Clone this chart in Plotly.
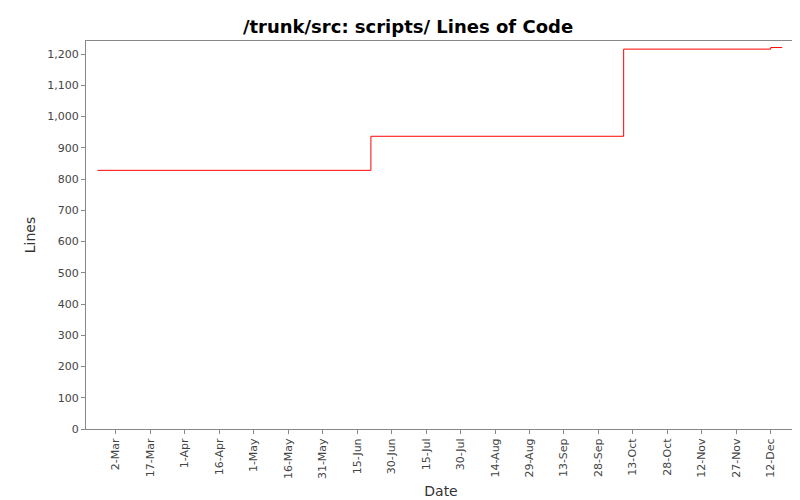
import plotly.graph_objects as go

dates = ["2009-02-22", "2009-06-21", "2009-10-09", "2009-12-12", "2009-12-17"]
lines = [828, 937, 1216, 1221, 1221]

tickvals = ["2009-03-02","2009-03-17","2009-04-01","2009-04-16","2009-05-01","2009-05-16",
            "2009-05-31","2009-06-15","2009-06-30","2009-07-15","2009-07-30","2009-08-14",
            "2009-08-29","2009-09-13","2009-09-28","2009-10-13","2009-10-28","2009-11-12",
            "2009-11-27","2009-12-12"]
ticktext = ["2-Mar","17-Mar","1-Apr","16-Apr","1-May","16-May","31-May","15-Jun","30-Jun",
            "15-Jul","30-Jul","14-Aug","29-Aug","13-Sep","28-Sep","13-Oct","28-Oct","12-Nov",
            "27-Nov","12-Dec"]

fig = go.Figure(go.Scatter(x=dates, y=lines, mode="lines", line=dict(color="red", width=1, shape="hv")))
fig.update_layout(
    width=800, height=500, paper_bgcolor="white", plot_bgcolor="white",
    margin=dict(l=78, r=12, t=33, b=79, autoexpand=False), showlegend=False,
    font=dict(family="DejaVu Sans", size=11, color="#444"),
    title=dict(text="<b>/trunk/src: scripts/ Lines of Code</b>", x=0.5, y=0.975, xanchor="center",
               font=dict(size=18, color="black")),
    xaxis=dict(range=["2009-02-17", "2009-12-23"], tickvals=tickvals, ticktext=ticktext, tickangle=-90,
               showgrid=False, zeroline=False, ticks="outside", ticklen=4, tickcolor="#888",
               mirror=True, showline=True, linecolor="#888", automargin=False,
               title=dict(text="Date", standoff=8, font=dict(size=14, color="#333"))),
    yaxis=dict(range=[0, 1242], dtick=100, tickformat=",", showgrid=False, zeroline=False,
               ticks="outside", ticklen=4, tickcolor="#888", mirror=True, showline=True, linecolor="#888",
               automargin=False,
               title=dict(text="Lines", standoff=8, font=dict(size=14, color="#333"))),
)
fig.write_html("out.html")
